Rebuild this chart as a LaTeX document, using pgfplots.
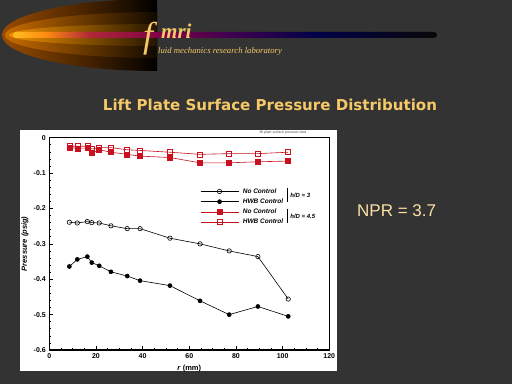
\documentclass[border=0pt]{standalone}
\usepackage{fontspec}
\setmainfont{Liberation Sans}
\newfontfamily\seriffont{Liberation Serif}
\newfontfamily\titlefont{DejaVu Sans}
\usepackage{pgfplots}
\pgfplotsset{compat=1.18}
\definecolor{bg}{HTML}{333333}
\definecolor{gold}{HTML}{F5C868}
\definecolor{npr}{HTML}{FBE0A4}
\definecolor{myred}{HTML}{C8101E}
\definecolor{cA}{HTML}{FFBC20}
\definecolor{cB}{HTML}{FF8C10}
\definecolor{cC}{HTML}{B02838}
\definecolor{cD}{HTML}{800048}
\definecolor{cE}{HTML}{400050}
\definecolor{cF}{HTML}{000048}
\definecolor{cG}{HTML}{080808}
\definecolor{g1}{HTML}{9A4C00}
\definecolor{g2}{HTML}{C86C00}
\definecolor{g3}{HTML}{F09000}
\pgfdeclarehorizontalshading{barshade}{100bp}{color(0bp)=(cA); color(25bp)=(cA); color(28.8bp)=(cB); color(34bp)=(cC); color(42.5bp)=(cD); color(50.5bp)=(cE); color(61bp)=(cF); color(75bp)=(cG); color(100bp)=(cG)}
\begin{document}
\begin{tikzpicture}
\begin{scope}[x=1pt,y=1pt]
\fill[bg] (0,0) rectangle (512,384);
\useasboundingbox (0,0) rectangle (512,384);
% banner glow
\begin{scope}
\clip (0,300) rectangle (157,384);
\shade[left color=g1, right color=black, middle color=black] (157,349) ellipse [x radius=155, y radius=36];
\shade[left color=g2, right color=black, middle color=black!92!g2] (157,349) ellipse [x radius=152, y radius=23];
\shade[left color=g3, right color=black, middle color=black!85!g3] (157,349) ellipse [x radius=148, y radius=11];
\end{scope}
\shade[shading=barshade, rounded corners=3pt] (13,346) rectangle (437,352);
% logo
\node[anchor=base west, inner sep=0, text=gold, font=\seriffont\itshape\fontsize{36}{36}\selectfont] at (143,337) {f};
\node[anchor=base west, inner sep=0, text=gold, font=\seriffont\itshape\bfseries\fontsize{21}{21}\selectfont] at (161,345) {mri};
\node[anchor=base west, inner sep=0, text=gold, font=\seriffont\itshape\fontsize{8.7}{9}\selectfont] at (158,330.7) {luid mechanics research laboratory};
% title
\node[anchor=base, inner sep=0, text=gold] at (270,274) {\resizebox{334pt}{!}{\titlefont\bfseries Lift Plate Surface Pressure Distribution}};
% NPR
\node[anchor=base west, inner sep=0, text=npr, font=\fontsize{17}{17}\selectfont] at (357,168) {NPR = 3.7};
% panel
\fill[white] (20,13) rectangle (337,254);
\node[anchor=base, inner sep=0, text=black!70, font=\fontsize{3.5}{4}\selectfont\itshape] at (283,251) {lift plate surface pressure data};
\end{scope}
\begin{axis}[
  at={(49.3pt,34pt)}, anchor=south west,
  scale only axis, width=280pt, height=212.3pt,
  xmin=0, xmax=120, ymin=-0.6, ymax=0,
  xtick={0,20,40,60,80,100,120},
  ytick={-0.6,-0.5,-0.4,-0.3,-0.2,-0.1,0},
  minor x tick num=3, minor y tick num=4,
  tick align=inside, xtick pos=bottom, ytick pos=left,
  major tick length=4pt, minor tick length=2pt,
  tick style={black, line width=0.6pt},
  axis line style={line width=0.8pt},
  tick label style={font=\fontsize{7}{8}\selectfont\bfseries},
  /pgf/number format/assume math mode=true,
  yticklabel style={/pgf/number format/fixed, /pgf/number format/precision=1},
  xlabel={\textbf{\textit{r} (mm)}},
  ylabel={\textbf{\textit{Pressure (psig)}}},
  ylabel style={yshift=-1.5pt},
  label style={font=\fontsize{7.5}{8}\selectfont},
  legend cell align=left,
  legend style={at={(axis cs:64.6,-0.137)}, anchor=north west, draw=none, fill=none,
    inner sep=0pt, row sep=0pt, font=\fontsize{6.5}{7}\selectfont\bfseries\itshape,
    nodes={inner xsep=4pt}},
  legend image code/.code={\draw[mark repeat=2,mark phase=2] plot coordinates {(0pt,0pt) (19pt,0pt) (38pt,0pt)};},
  every axis plot/.append style={line width=0.6pt},
]
\addplot[black, mark=o, mark size=2.2pt] coordinates {
(8.6,-0.239) (12,-0.241) (16.3,-0.237) (18.2,-0.240) (21.4,-0.241) (26.4,-0.249) (33.4,-0.257) (38.9,-0.257) (51.7,-0.284) (64.6,-0.300) (77.1,-0.320) (89.4,-0.336) (102.4,-0.456)};
\addlegendentry{No Control}
\addplot[black, mark=*, mark size=2pt] coordinates {
(8.6,-0.364) (12,-0.344) (16.3,-0.336) (18.2,-0.353) (21.4,-0.362) (26.4,-0.379) (33.4,-0.391) (38.9,-0.404) (51.7,-0.418) (64.6,-0.461) (77.1,-0.500) (89.4,-0.477) (102.4,-0.505)};
\addlegendentry{HWB Control}
\addplot[myred, mark=square*, mark size=2.5pt] coordinates {
(8.6,-0.028) (12,-0.030) (16.3,-0.029) (18.2,-0.044) (21.4,-0.034) (26.4,-0.041) (33.4,-0.047) (38.9,-0.052) (51.7,-0.056) (64.6,-0.071) (77.1,-0.071) (89.4,-0.068) (102.4,-0.066)};
\addlegendentry{No Control}
\addplot[myred, mark=square, mark size=2.5pt] coordinates {
(8.6,-0.024) (12,-0.024) (16.3,-0.024) (18.2,-0.032) (21.4,-0.028) (26.4,-0.028) (33.4,-0.034) (38.9,-0.036) (51.7,-0.041) (64.6,-0.047) (77.1,-0.045) (89.4,-0.045) (102.4,-0.041)};
\addlegendentry{HWB Control}
\draw[black, line width=0.5pt] (axis cs:102,-0.142) -- (axis cs:102,-0.182);
\draw[black, line width=0.5pt] (axis cs:102,-0.2015) -- (axis cs:102,-0.241);
\node[anchor=west, inner sep=0, font=\fontsize{6}{7}\selectfont\bfseries\itshape] at (axis cs:103.2,-0.162) {h/D = 3};
\node[anchor=west, inner sep=0, font=\fontsize{6}{7}\selectfont\bfseries\itshape] at (axis cs:103.2,-0.221) {h/D = 4.5};
\draw[black, line width=1.6pt] (rel axis cs:0,1) -- (rel axis cs:0,0) -- (rel axis cs:1,0);
\end{axis}
\end{tikzpicture}
\end{document}
